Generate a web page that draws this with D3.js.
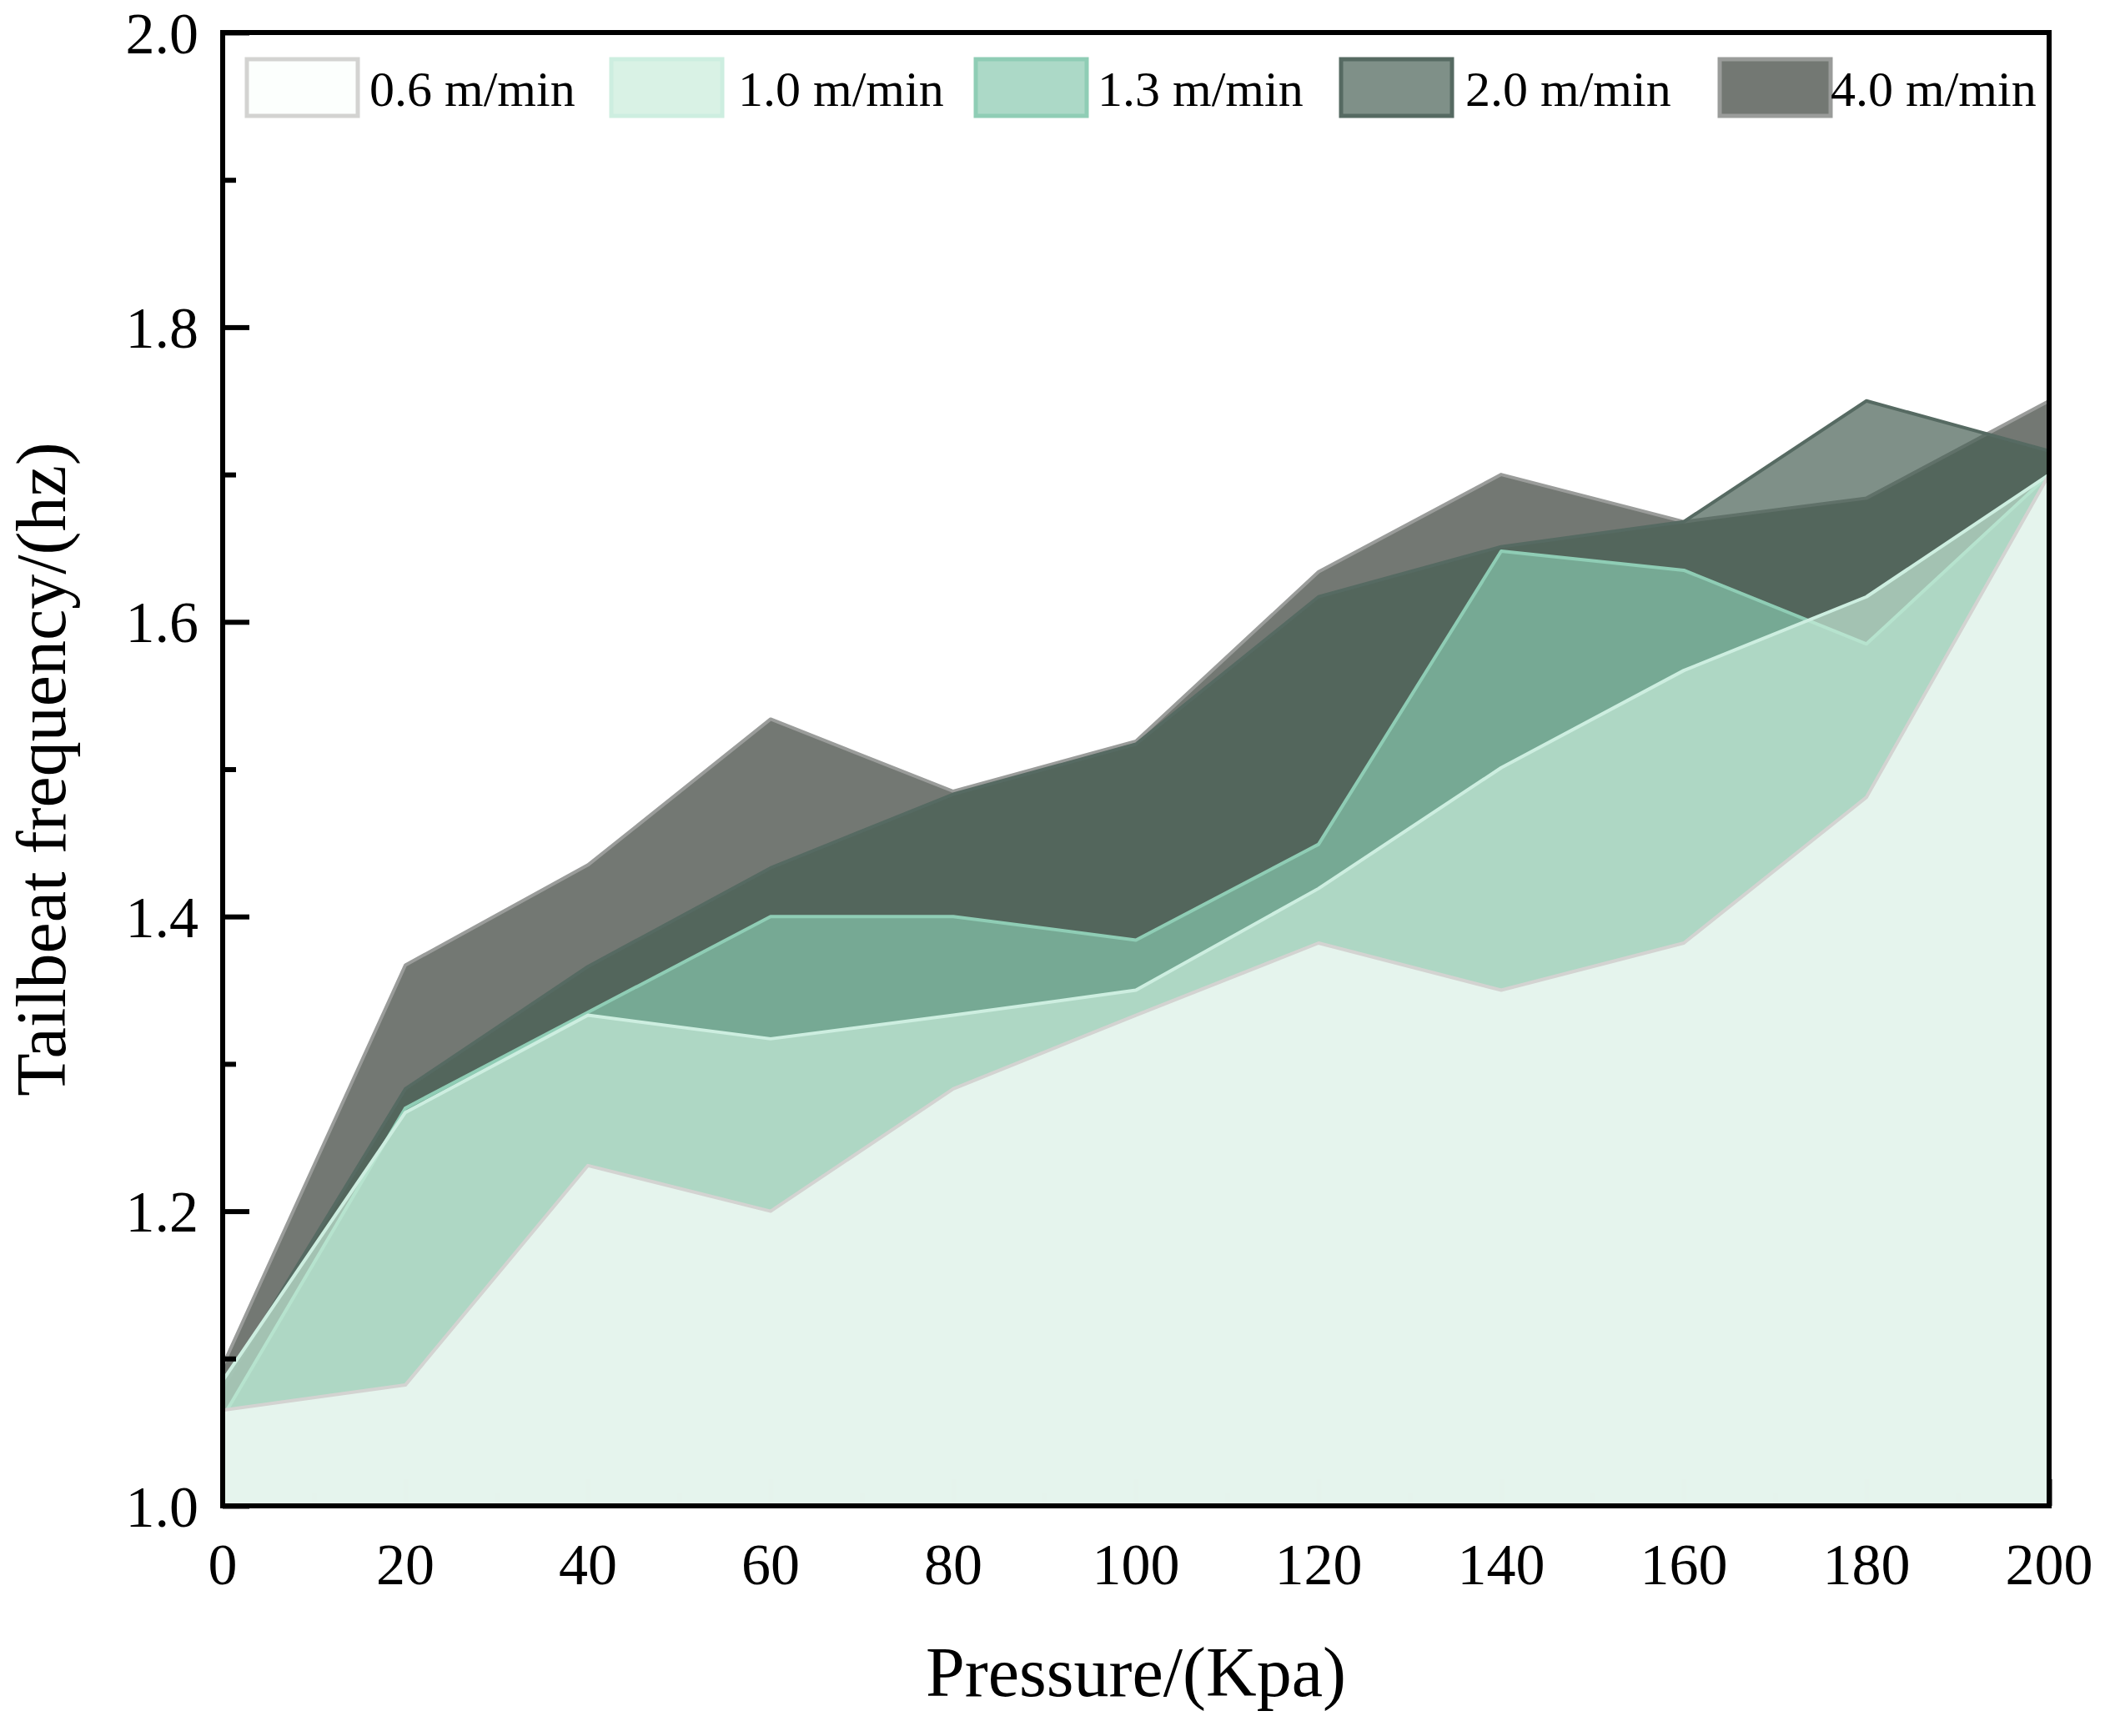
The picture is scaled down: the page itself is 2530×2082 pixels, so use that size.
<!DOCTYPE html>
<html>
<head>
<meta charset="utf-8">
<script src="https://cdn.jsdelivr.net/npm/d3@7"></script>
<style>
  body { margin: 0; background: #fff; }
  svg { display: block; font-family: "Liberation Serif", "Times New Roman", serif; }
</style>
</head>
<body>
<div id="chart"></div>
<script>
// pressure (Kpa) on the x axis
const pressure = [0, 20, 40, 60, 80, 100, 120, 140, 160, 180, 200];

// tailbeat frequency (hz) per swimming speed
const speeds = ['0.6 m/min', '1.0 m/min', '1.3 m/min', '2.0 m/min', '4.0 m/min'];
const freq06 = [1.065, 1.082, 1.231, 1.200, 1.283, 1.333, 1.382, 1.350, 1.382, 1.481, 1.700];
const freq10 = [1.085, 1.267, 1.333, 1.317, 1.333, 1.350, 1.419, 1.501, 1.567, 1.617, 1.700];
const freq13 = [1.060, 1.270, 1.335, 1.400, 1.400, 1.384, 1.449, 1.648, 1.635, 1.585, 1.700];
const freq20 = [1.080, 1.283, 1.366, 1.433, 1.483, 1.517, 1.617, 1.651, 1.668, 1.750, 1.716];
const freq40 = [1.095, 1.367, 1.435, 1.534, 1.485, 1.519, 1.634, 1.700, 1.668, 1.684, 1.750];
const seriesValues = [freq06, freq10, freq13, freq20, freq40];

const xTicks = [0, 20, 40, 60, 80, 100, 120, 140, 160, 180, 200];
const yTicks = [1.0, 1.2, 1.4, 1.6, 1.8, 2.0];

// look of each series (same order as speeds)
const fills = ['#fbfffc', '#c8ecda', '#87c8ae', '#455e52', '#343b34'];
const strokes = ['#d3d3d1', '#cdeee0', '#8fcdb5', '#566a62', '#9a9c9a'];
const fillOpacity = [0.72, 0.69, 0.69, 0.69, 0.69];
const legendX = [296, 733, 1170, 1608, 2062];
const legendTextX = [443, 885, 1316, 1757, 2195];

const W = 2530, H = 2082;
const plot = { left: 267, right: 2457, top: 39, bottom: 1806 };

const svg = d3.select('#chart').append('svg')
  .attr('width', W)
  .attr('height', H);

const x = d3.scaleLinear().domain([0, 200]).range([plot.left, plot.right]);
const y = d3.scaleLinear().domain([1.0, 2.0]).range([plot.bottom, plot.top]);

svg.append('clipPath').attr('id', 'plot-clip')
  .append('rect')
  .attr('x', plot.left).attr('y', plot.top)
  .attr('width', plot.right - plot.left).attr('height', plot.bottom - plot.top);

// x ticks sit under the areas (they only show through faintly)
const gx = svg.append('g')
  .attr('transform', `translate(0,${plot.bottom})`)
  .call(d3.axisTop(x).tickValues(d3.range(0, 201, 10)).tickSize(32).tickFormat(''));
gx.select('.domain').remove();
gx.selectAll('.tick line')
  .attr('stroke', '#000')
  .attr('stroke-width', 6)
  .attr('y2', d => (d % 20 === 0 ? -32 : -16));

// areas: back to front 4.0, 2.0, 1.3, 1.0, 0.6
const area = d3.area()
  .x((d, i) => x(pressure[i]))
  .y0(y(1.0))
  .y1(d => y(d));

const line = d3.line()
  .x((d, i) => x(pressure[i]))
  .y(d => y(d));

const order = d3.range(speeds.length).reverse();
const gArea = svg.append('g').attr('clip-path', 'url(#plot-clip)');
order.forEach(k => {
  gArea.append('path')
    .datum(seriesValues[k])
    .attr('d', area)
    .attr('fill', fills[k])
    .attr('fill-opacity', fillOpacity[k]);
  gArea.append('path')
    .datum(seriesValues[k])
    .attr('d', line)
    .attr('fill', 'none')
    .attr('stroke', strokes[k])
    .attr('stroke-width', 4)
    .attr('stroke-linejoin', 'round');
});

// y axis ticks, inward
const gy = svg.append('g')
  .attr('transform', `translate(${plot.left},0)`)
  .call(d3.axisRight(y).tickValues(d3.range(10, 21).map(v => v / 10)).tickFormat(''));
gy.select('.domain').remove();
gy.selectAll('.tick line')
  .attr('stroke', '#000')
  .attr('stroke-width', 6)
  .attr('x2', (d, i) => (i % 2 === 0 ? 32 : 16));

// tick labels
svg.append('g').selectAll('text')
  .data(yTicks)
  .enter()
  .append('text')
  .attr('x', 238)
  .attr('y', d => y(d))
  .attr('dy', '0.35em')
  .attr('text-anchor', 'end')
  .attr('font-size', 70)
  .text(d => d.toFixed(1));

svg.append('g').selectAll('text')
  .data(xTicks)
  .enter()
  .append('text')
  .attr('x', d => x(d))
  .attr('y', 1900)
  .attr('text-anchor', 'middle')
  .attr('font-size', 70)
  .text(d => d);

// frame
svg.append('rect')
  .attr('x', plot.left).attr('y', plot.top)
  .attr('width', plot.right - plot.left).attr('height', plot.bottom - plot.top)
  .attr('fill', 'none')
  .attr('stroke', '#000')
  .attr('stroke-width', 6);

// axis titles
svg.append('text')
  .attr('x', (plot.left + plot.right) / 2)
  .attr('y', 2034)
  .attr('text-anchor', 'middle')
  .attr('font-size', 84)
  .text('Pressure/(Kpa)');

svg.append('text')
  .attr('transform', `translate(78,${(plot.top + plot.bottom) / 2}) rotate(-90)`)
  .attr('text-anchor', 'middle')
  .attr('font-size', 84)
  .text('Tailbeat frequency/(hz)');

// legend
const legend = svg.append('g');
speeds.forEach((name, k) => {
  legend.append('rect')
    .attr('x', legendX[k]).attr('y', 71)
    .attr('width', 133).attr('height', 68)
    .attr('fill', fills[k])
    .attr('fill-opacity', fillOpacity[k])
    .attr('stroke', strokes[k])
    .attr('stroke-width', 5);
  legend.append('text')
    .attr('x', legendTextX[k]).attr('y', 127)
    .attr('font-size', 60)
    .text(name);
});
</script>
</body>
</html>
